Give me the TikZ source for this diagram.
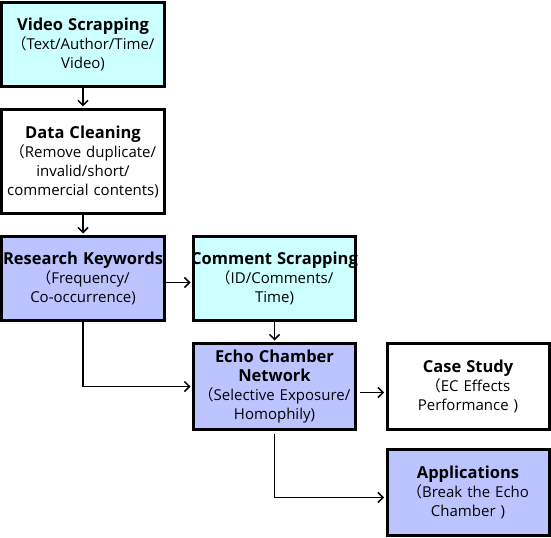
\documentclass[tikz,border=0pt]{standalone}
\usepackage{fontspec}
\setmainfont{Open Sans}
\newfontfamily\cjk{Noto Sans CJK SC}
\usetikzlibrary{arrows.meta}
\definecolor{scrapcol}{RGB}{204,255,255}
\definecolor{corecol}{RGB}{187,196,255}
\newcommand{\lparen}{{\cjk （}}
\newcommand{\stagetitle}[1]{\makebox[\linewidth]{\fontsize{16.5bp}{19bp}\selectfont\textbf{#1}}}
\tikzset{
  stage/.style={draw=black, line width=3bp, inner xsep=2bp, inner ysep=0pt,
    text width=158bp, align=center, minimum height=84bp,
    font=\fontsize{15bp}{19bp}\selectfont},
  flow/.style={-{Straight Barb[length=5bp,width=10bp]}, line width=1.5bp, shorten >=1.5bp},
}
\begin{document}
\begin{tikzpicture}[x=1bp,y=-1bp]
\useasboundingbox (0,0) rectangle (551,538);
%%
  % Node: vs
  \node[stage, fill=scrapcol] (vs) at (83,44.5) {\stagetitle{Video Scrapping}\\\lparen Text/Author/Time/\\Video)};
  % Node: dc
  \node[stage, minimum height=104bp] (dc) at (83,161.5) {\stagetitle{Data Cleaning}\\\lparen Remove duplicate/\\invalid/short/\\commercial contents)};
  % Node: rk
  \node[stage, fill=corecol] (rk) at (83,278.5) {\stagetitle{Research Keywords}\\\lparen Frequency/\\Co-occurrence)};
  % Node: cs
  \node[stage, fill=scrapcol] (cs) at (274.5,278.5) {\stagetitle{Comment Scrapping}\\\lparen ID/Comments/\\Time)};
  % Node: ecn
  \node[stage, fill=corecol, minimum height=86bp] (ecn) at (274.5,386.5) {\stagetitle{Echo Chamber}\\\stagetitle{Network}\\\lparen Selective Exposure/\\Homophily)};
  % Node: case
  \node[stage, minimum height=86bp] (case) at (468,386.5) {\stagetitle{Case Study}\\\lparen EC Effects\\Performance )};
  % Node: app
  \node[stage, fill=corecol, minimum height=86bp] (app) at (468,492.5) {\stagetitle{Applications}\\\lparen Break the Echo\\Chamber )};
%
  % Edge: vs -> dc
  \draw[flow] (vs) -- (dc);
  % Edge: dc -> rk
  \draw[flow] (dc) -- (rk);
  % Edge: rk -> cs
  \draw[flow] ([yshift=-4bp]rk.east) -- ([yshift=-4bp]cs.west);
  % Edge: cs -> ecn
  \draw[flow] (cs) -- (ecn);
  % Edge: rk -> ecn
  \draw[flow] (rk.south) |- (ecn.west);
  % Edge: ecn -> case
  \draw[flow, shorten <=3bp] ([yshift=-6bp]ecn.east) -- ([yshift=-6bp]case.west);
  % Edge: ecn -> app
  \draw[flow, shorten <=3bp] (ecn.south) |- ([yshift=-5bp]app.west);
%
\end{tikzpicture}
\end{document}
